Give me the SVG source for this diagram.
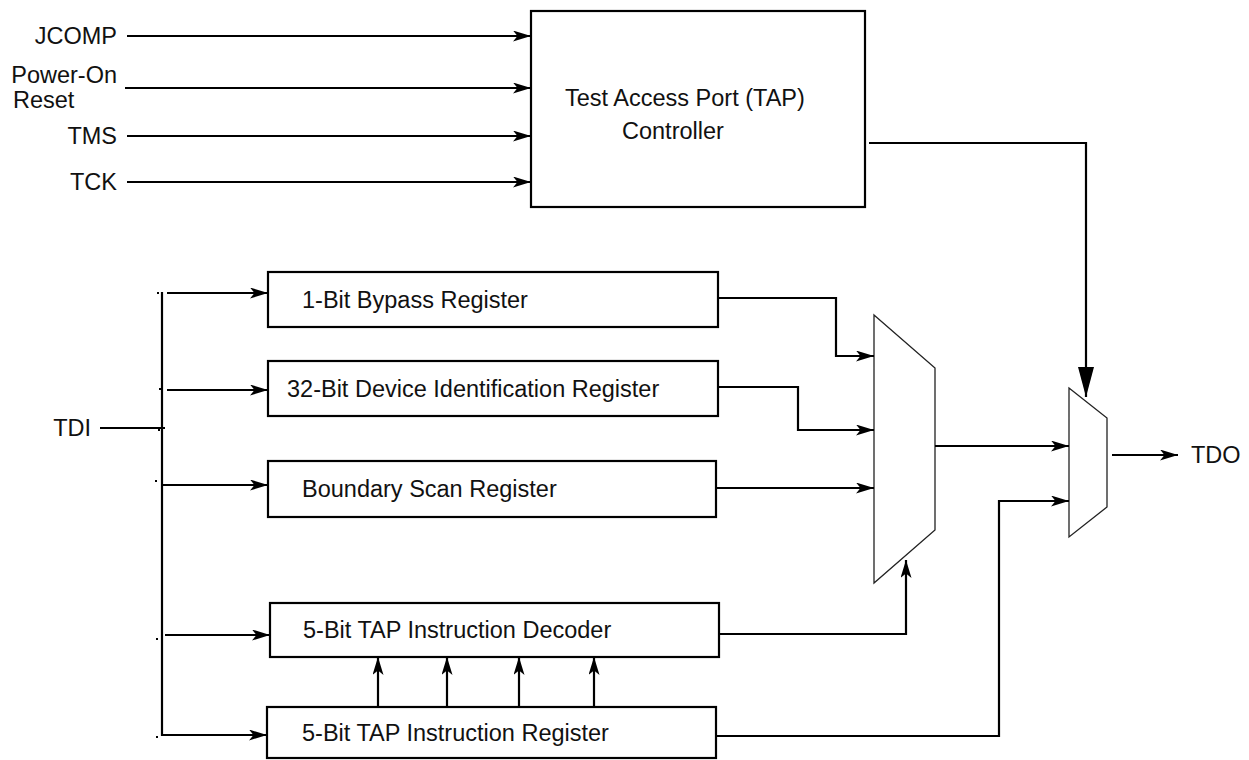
<svg xmlns="http://www.w3.org/2000/svg" width="1249" height="760" viewBox="0 0 1249 760">
<style>
text{font-family:"Liberation Sans",Arial,sans-serif;font-size:23.5px;fill:#111}
.box{fill:#fff;stroke:#000;stroke-width:2.2}
.mux{fill:#fff;stroke:#222;stroke-width:1.3}
.w{fill:none;stroke:#000;stroke-width:2.2}
.a{marker-end:url(#ah)}
.dot{fill:#000}
</style>
<defs>
<marker id="ah" markerUnits="userSpaceOnUse" markerWidth="20" markerHeight="12" refX="18" refY="5.5" orient="auto">
<path d="M0,0 L18,5.5 L0,11 L4.5,5.5 z" fill="#000"/>
</marker>
<marker id="big" markerUnits="userSpaceOnUse" markerWidth="32" markerHeight="18" refX="30" refY="8" orient="auto">
<path d="M0,0 L30,8 L0,16 z" fill="#000"/>
</marker>
</defs>

<g id="labels">
<text x="117" y="44" text-anchor="end">JCOMP</text>
<text x="117" y="83" text-anchor="end">Power-On</text>
<text x="13" y="108">Reset</text>
<text x="117" y="144" text-anchor="end">TMS</text>
<text x="117" y="190" text-anchor="end">TCK</text>
<text x="91" y="436" text-anchor="end">TDI</text>
<text x="1191" y="463">TDO</text>
</g>

<g id="tap">
<rect class="box" x="531" y="11" width="334" height="196"/>
<text x="565" y="106">Test Access Port (TAP)</text>
<text x="622" y="139">Controller</text>
</g>

<g id="bypass">
<rect class="box" x="268" y="272" width="450" height="55"/>
<text x="302" y="308">1-Bit Bypass Register</text>
</g>
<g id="deviceid">
<rect class="box" x="268" y="361" width="450" height="55"/>
<text x="287" y="397">32-Bit Device Identification Register</text>
</g>
<g id="boundary">
<rect class="box" x="268" y="461" width="448" height="56"/>
<text x="302" y="497">Boundary Scan Register</text>
</g>
<g id="decoder">
<rect class="box" x="270" y="603" width="449" height="54"/>
<text x="303" y="638">5-Bit TAP Instruction Decoder</text>
</g>
<g id="ireg">
<rect class="box" x="267" y="707" width="449" height="51"/>
<text x="302" y="741">5-Bit TAP Instruction Register</text>
</g>
<g id="mux1">
<polygon class="mux" points="874,315 935,368 935,530 874,583"/>
</g>
<g id="mux2">
<polygon class="mux" points="1069,388 1107,418 1107,507 1069,537"/>
</g>

<g id="connectors">
<line class="w a" x1="127" y1="36" x2="531" y2="36"/>
<line class="w a" x1="125" y1="88" x2="531" y2="88"/>
<line class="w a" x1="127" y1="136" x2="531" y2="136"/>
<line class="w a" x1="127" y1="182" x2="531" y2="182"/>

<polyline class="w" points="869,143 1086,143 1086,397" marker-end="url(#big)"/>

<line class="w" x1="100" y1="428" x2="165" y2="428"/>
<line class="w" x1="162" y1="292" x2="162" y2="736"/>
<line class="w a" x1="167" y1="293" x2="268" y2="293"/>
<line class="w a" x1="167" y1="390" x2="268" y2="390"/>
<line class="w a" x1="162" y1="485" x2="268" y2="485"/>
<line class="w a" x1="165" y1="635" x2="270" y2="635"/>
<line class="w a" x1="162" y1="735" x2="267" y2="735"/>

<polyline class="w a" points="718,298 836,298 836,356 874,356"/>
<polyline class="w a" points="718,387 798,387 798,430 874,430"/>
<line class="w a" x1="716" y1="488" x2="874" y2="488"/>
<polyline class="w a" points="719,634 906,634 906,560"/>

<line class="w a" x1="935" y1="446" x2="1069" y2="446"/>
<polyline class="w a" points="716,736 999,736 999,501 1069,501"/>
<line class="w a" x1="1112" y1="455" x2="1178" y2="455"/>

<line class="w a" x1="378" y1="707" x2="378" y2="657"/>
<line class="w a" x1="447" y1="707" x2="447" y2="657"/>
<line class="w a" x1="519" y1="707" x2="519" y2="657"/>
<line class="w a" x1="594" y1="707" x2="594" y2="657"/>
</g>

<g id="dots">
<rect class="dot" x="157" y="292" width="2" height="2"/>
<rect class="dot" x="159" y="388" width="2" height="2"/>
<rect class="dot" x="158" y="429" width="2" height="2"/>
<rect class="dot" x="155" y="480" width="2" height="2"/>
<rect class="dot" x="156" y="638" width="2" height="2"/>
<rect class="dot" x="156" y="736" width="2" height="2"/>
</g>
</svg>
